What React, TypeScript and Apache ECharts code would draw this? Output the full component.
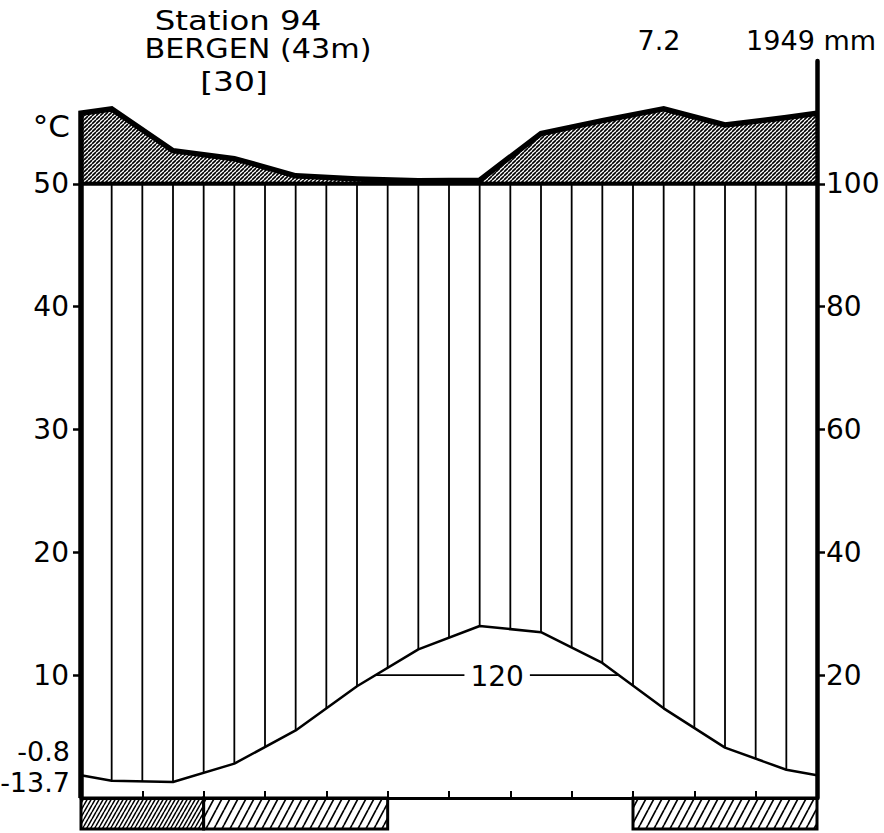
import React, { useEffect, useRef } from 'react';
import * as echarts from 'echarts';

// Walter–Lieth climate diagram, Bergen
const months = ['Jan', 'Feb', 'Mar', 'Apr', 'May', 'Jun', 'Jul', 'Aug', 'Sep', 'Oct', 'Nov', 'Dec'];
const temperature = [1.4, 1.3, 2.8, 5.5, 9.1, 12.1, 14.0, 13.5, 11.0, 7.3, 4.1, 2.3]; // °C
const precipitation = [222, 154, 141, 113, 108, 105, 106, 182, 203, 222, 196, 208]; // mm
// 2 = mean daily minimum below 0 °C, 1 = absolute minimum below 0 °C, 0 = frost free
const frost = [2, 2, 1, 1, 1, 0, 0, 0, 0, 1, 1, 1];
const tempTicks = [10, 20, 30, 40, 50];
const precTicks = [20, 40, 60, 80, 100];
const titleLines = ['Station 94', 'BERGEN (43m)', '[30]'];
const annualTemp = '7.2';
const annualPrec = '1949 mm';
const meanMinColdest = '-0.8';
const absoluteMin = '-13.7';
const warmThreshold = 10;
const warmLabel = '120';

const FONT = 'DejaVu Sans';

// precipitation on the temperature scale: 20 mm = 10 °C, above 100 mm reduced to 1/10
const toAxis = (p: number) => (p <= 100 ? p / 2 : 50 + (p - 100) / 20);

function hatch(w: number, h: number, lw: number) {
  const c = document.createElement('canvas');
  c.width = w;
  c.height = h;
  const g = c.getContext('2d')!;
  g.fillStyle = '#ffffff';
  g.fillRect(0, 0, w, h);
  g.strokeStyle = '#000000';
  g.lineWidth = lw;
  g.beginPath();
  for (const k of [-1, 0, 1]) {
    g.moveTo(k * w, h);
    g.lineTo((k + 1) * w, 0);
  }
  g.stroke();
  return { image: c.toDataURL(), repeat: 'repeat', imageWidth: w, imageHeight: h } as any;
}

export default function App() {
  const ref = useRef<HTMLDivElement>(null);

  useEffect(() => {
    if (!ref.current) return;
    const chart = echarts.init(ref.current, undefined, { renderer: 'svg' });

    const tEdge = (temperature[0] + temperature[11]) / 2;
    const pEdge = (precipitation[0] + precipitation[11]) / 2;
    const tempLine = [[0, tEdge], ...temperature.map((t, i) => [i + 0.5, t]), [12, tEdge]];
    const precLine = [
      [0, toAxis(pEdge)],
      ...precipitation.map((p, i) => [i + 0.5, toAxis(p)]),
      [12, toAxis(pEdge)],
    ];

    // where the temperature curve crosses the threshold
    const crossings: number[] = [];
    for (let i = 0; i < tempLine.length - 1; i++) {
      const [x0, y0] = tempLine[i];
      const [x1, y1] = tempLine[i + 1];
      if ((y0 - warmThreshold) * (y1 - warmThreshold) < 0) {
        crossings.push(x0 + ((warmThreshold - y0) / (y1 - y0)) * (x1 - x0));
      }
    }

    // runs of frost months
    const frostRuns: number[][] = [];
    frost.forEach((f, i) => {
      if (!f) return;
      const last = frostRuns[frostRuns.length - 1];
      if (last && last[1] === i && last[2] === f) last[1] = i + 1;
      else frostRuns.push([i, i + 1, f]);
    });

    const halfMonths = Array.from({ length: 23 }, (_, k) => [(k + 1) / 2, 0]);

    const topHatch = hatch(4, 4, 1.6);
    const denseHatch = hatch(4, 7, 1.5);
    const sparseHatch = hatch(8, 15, 1.7);

    const tick = { color: '#000', width: 2.5 };
    const label = { color: '#000', fontSize: 28, fontFamily: FONT };

    const text = (t: string, x: number, y: number, size: number, align: string, scaleX = 1) => ({
      type: 'text',
      x,
      y,
      scaleX,
      silent: true,
      style: {
        text: t,
        x: 0,
        y: 0,
        font: `${size}px "${FONT}"`,
        fill: '#000',
        align,
        textAlign: align,
        verticalAlign: 'middle',
        textVerticalAlign: 'middle',
      },
    });

    chart.setOption({
      animation: false,
      backgroundColor: '#ffffff',
      grid: { left: 81, right: 67, top: 61, bottom: 35 },
      xAxis: {
        type: 'value',
        min: 0,
        max: 12,
        interval: 1,
        z: 10,
        axisLine: { show: true, onZero: false, lineStyle: { color: '#000', width: 3 } },
        axisTick: { show: true, inside: true, length: 7, lineStyle: { color: '#000', width: 2 } },
        axisLabel: { show: false },
        splitLine: { show: false },
      },
      yAxis: [
        {
          type: 'value',
          min: 0,
          max: 60,
          interval: 10,
          position: 'left',
          z: 10,
          axisLine: { show: false },
          axisTick: { show: true, length: 8, customValues: tempTicks, lineStyle: tick },
          axisLabel: { ...label, customValues: tempTicks, margin: 12 },
          splitLine: { show: false },
        },
        {
          type: 'value',
          min: 0,
          max: 120,
          interval: 20,
          position: 'right',
          z: 10,
          axisLine: { show: true, lineStyle: { color: '#000', width: 4.5 } },
          axisTick: { show: true, length: 8, customValues: precTicks, lineStyle: tick },
          axisLabel: { ...label, customValues: precTicks, margin: 9 },
          splitLine: { show: false },
        },
      ],
      series: [
        {
          // humid period hatching
          type: 'custom',
          z: 1,
          silent: true,
          data: halfMonths,
          renderItem: (_p: any, api: any) => {
            const x = api.value(0);
            const a = api.coord([x, 0]);
            const b = api.coord([x, 50]);
            return {
              type: 'line',
              shape: { x1: a[0], y1: a[1], x2: b[0], y2: b[1] },
              style: { stroke: '#000', lineWidth: 1.8 },
            };
          },
        },
        {
          name: 'Temperature',
          type: 'line',
          z: 3,
          silent: true,
          data: tempLine,
          symbol: 'none',
          lineStyle: { color: '#000', width: 2.5 },
          areaStyle: { color: '#ffffff', opacity: 1 },
        },
        {
          // precipitation above 100 mm
          type: 'custom',
          z: 4,
          silent: true,
          data: [[0, 0]],
          renderItem: (_p: any, api: any) => {
            const pts = precLine.map((d) => api.coord(d));
            const b0 = api.coord([0, 50]);
            const b1 = api.coord([12, 50]);
            const origin = api.coord([0, 0]);
            return {
              type: 'group',
              children: [
                {
                  type: 'polygon',
                  shape: { points: [b0, ...pts, b1] },
                  style: { fill: topHatch, stroke: 'none' },
                },
                {
                  type: 'line',
                  shape: { x1: b0[0], y1: b0[1], x2: b1[0], y2: b1[1] },
                  style: { stroke: '#000', lineWidth: 4 },
                },
                {
                  type: 'polyline',
                  shape: { points: [origin, ...pts] },
                  style: { stroke: '#000', lineWidth: 5.5, fill: 'none' },
                },
              ],
            };
          },
        },
        {
          // period above the threshold temperature
          type: 'custom',
          z: 5,
          silent: true,
          data: crossings.length >= 2 ? [[crossings[0], crossings[crossings.length - 1]]] : [],
          renderItem: (_p: any, api: any) => {
            const a = api.coord([api.value(0), warmThreshold]);
            const b = api.coord([api.value(1), warmThreshold]);
            return {
              type: 'group',
              children: [
                {
                  type: 'line',
                  shape: { x1: a[0], y1: a[1], x2: b[0], y2: b[1] },
                  style: { stroke: '#000', lineWidth: 1.8 },
                },
                {
                  type: 'text',
                  style: {
                    text: warmLabel,
                    x: (a[0] + b[0]) / 2,
                    y: a[1] + 1,
                    align: 'center',
                    verticalAlign: 'middle',
                    font: `28px "${FONT}"`,
                    fill: '#000',
                    backgroundColor: '#ffffff',
                    padding: [0, 6],
                  },
                },
              ],
            };
          },
        },
        {
          // frost months below the axis
          type: 'custom',
          z: 6,
          silent: true,
          clip: false,
          data: frostRuns,
          renderItem: (_p: any, api: any) => {
            const a = api.coord([api.value(0), 0]);
            const b = api.coord([api.value(1), 0]);
            return {
              type: 'rect',
              shape: { x: a[0], y: a[1], width: b[0] - a[0], height: 31 },
              style: {
                fill: api.value(2) === 2 ? denseHatch : sparseHatch,
                stroke: '#000',
                lineWidth: 3,
              },
            };
          },
        },
      ],
      graphic: [
        text(titleLines[0], 238, 20, 27, 'center', 1.2),
        text(titleLines[1], 258, 49, 27, 'center', 1.12),
        text(titleLines[2], 234, 82, 27, 'center', 1.22),
        text(annualTemp, 659, 40, 27, 'center'),
        text(annualPrec, 876, 40, 27, 'right'),
        text('°C', 70, 126, 31, 'right'),
        text(meanMinColdest, 70, 751, 27, 'right'),
        text(absoluteMin, 70, 782, 27, 'right'),
      ],
    } as any);

    return () => chart.dispose();
  }, []);

  return (
    <div
      ref={ref}
      style={{ position: 'absolute', left: 0, top: 0, width: 884, height: 833, background: '#fff' }}
    />
  );
}
